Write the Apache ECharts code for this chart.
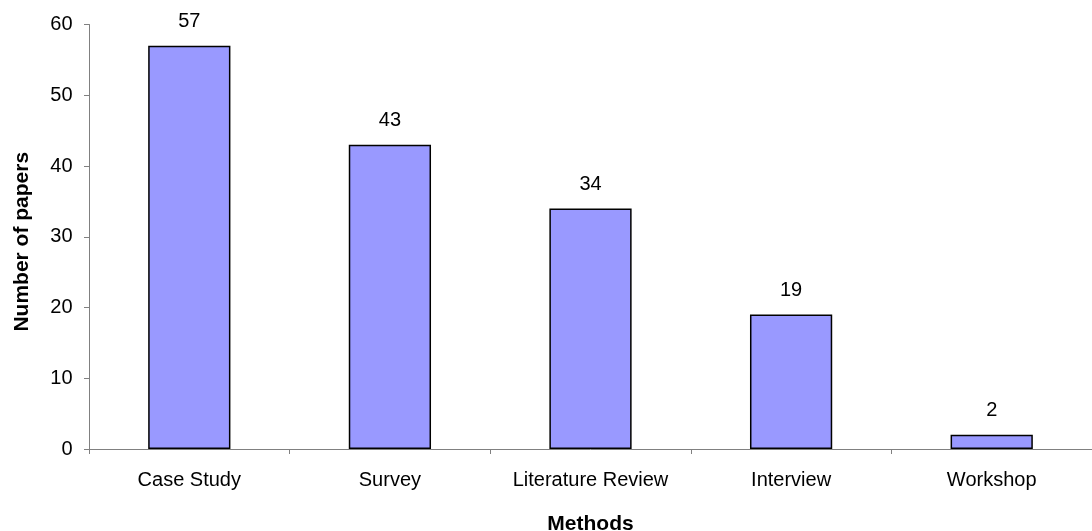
<!DOCTYPE html>
<html><head><meta charset="utf-8">
<script src="https://cdn.jsdelivr.net/npm/echarts@6/dist/echarts.min.js"></script>
<style>html,body{margin:0;padding:0;background:#fff}#c{width:1092px;height:531px}</style>
</head><body><div id="c"></div>
<script>
const categories = ["Case Study", "Survey", "Literature Review", "Interview", "Workshop"];
const papers = [57, 43, 34, 19, 2];
const yTicks = [0, 10, 20, 30, 40, 50, 60];

const chart = echarts.init(document.getElementById('c'), null, {renderer: 'canvas'});
const font = 'Liberation Sans, Arial, sans-serif';
chart.setOption({
  animation: false,
  grid: {left: 89, right: 0, top: 24.5, bottom: 82, containLabel: false, outerBoundsMode: 'none'},
  xAxis: {
    type: 'category', data: categories,
    name: 'Methods', nameLocation: 'middle', nameGap: 65,
    nameTextStyle: {fontFamily: font, fontSize: 21, fontWeight: 'bold', color: '#000'},
    axisLine: {lineStyle: {color: '#808080', width: 1}},
    axisTick: {show: true, interval: 0, length: 5, lineStyle: {color: '#808080'}, alignWithLabel: false},
    axisLabel: {interval: 0, fontFamily: font, fontSize: 20, color: '#000', margin: 21}
  },
  yAxis: {
    type: 'value', min: yTicks[0], max: yTicks[yTicks.length - 1], interval: 10,
    name: 'Number of papers', nameLocation: 'middle', nameGap: 56, nameRotate: 90,
    nameTextStyle: {fontFamily: font, fontSize: 21, fontWeight: 'bold', color: '#000', padding: [0, 10, 0, 0]},
    axisLine: {show: true, lineStyle: {color: '#808080', width: 1}},
    axisTick: {show: true, length: 5, lineStyle: {color: '#808080'}},
    axisLabel: {fontFamily: font, fontSize: 20, color: '#000', margin: 16.5},
    splitLine: {show: false}
  },
  series: [{
    type: 'bar', data: papers, barCategoryGap: '59%',
    itemStyle: {color: '#9999FF', borderColor: '#000', borderWidth: 1.5},
    label: {show: true, position: 'top', distance: 14, fontFamily: font, fontSize: 20, color: '#000'}
  }]
});
</script></body></html>
